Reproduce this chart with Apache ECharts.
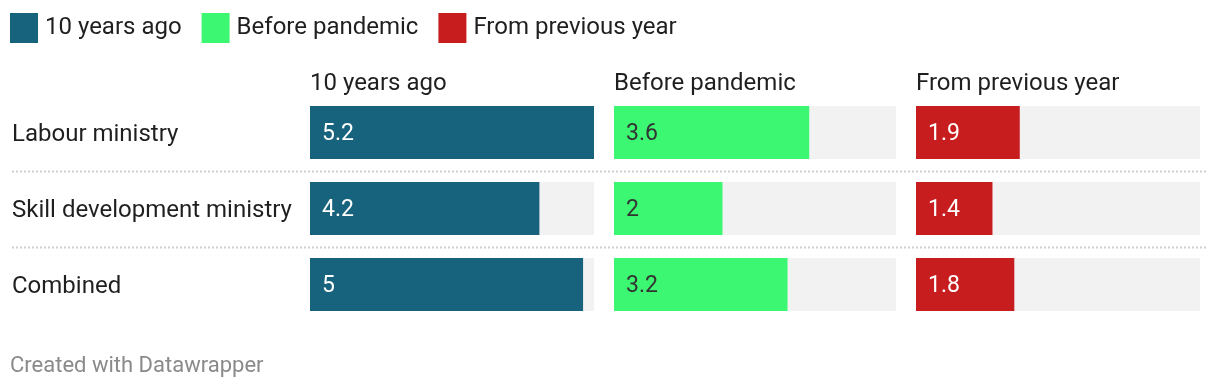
<!DOCTYPE html>
<html>
<head>
<meta charset="utf-8">
<style>html,body{margin:0;padding:0;background:#fff}#c{width:1220px;height:390px}</style>
<script src="https://cdn.jsdelivr.net/npm/echarts@6/dist/echarts.min.js"></script>
</head>
<body>
<div id="c"></div>
<script>
const categories = ['Labour ministry', 'Skill development ministry', 'Combined'];
const seriesNames = ['10 years ago', 'Before pandemic', 'From previous year'];
const tenYearsAgo = [5.2, 4.2, 5];
const beforePandemic = [3.6, 2, 3.2];
const fromPreviousYear = [1.9, 1.4, 1.8];
const scaleMax = 5.2;

const FONT = 'Roboto';
const colors = ['#17627c', '#3bf771', '#c81d1f'];
const labelColors = ['#ffffff', '#333333', '#ffffff'];
const gridLefts = [310, 614, 916];
const gridWidths = [284, 282, 284];
const values = [tenYearsAgo, beforePandemic, fromPreviousYear];

const chart = echarts.init(document.getElementById('c'), null, {renderer: 'canvas'});

const grids = [], xAxes = [], yAxes = [], series = [], titles = [];
for (let i = 0; i < 3; i++) {
  grids.push({left: gridLefts[i], width: gridWidths[i], top: 94.5, height: 228, containLabel: false});
  xAxes.push({type: 'value', gridIndex: i, min: 0, max: scaleMax, show: false});
  yAxes.push({
    type: 'category', gridIndex: i, data: categories, inverse: true,
    axisLine: {show: false}, axisTick: {show: false}, splitLine: {show: false},
    axisLabel: i === 0 ? {
      show: true, align: 'left', margin: 298, formatter: '{a|{value}}',
      rich: {a: {fontFamily: FONT, fontSize: 24, color: '#1f1f1f', padding: [5, 0, 0, 0]}}
    } : {show: false}
  });
  series.push({
    name: seriesNames[i], type: 'bar', xAxisIndex: i, yAxisIndex: i,
    data: values[i], barWidth: 53,
    itemStyle: {color: colors[i]},
    showBackground: true, backgroundStyle: {color: '#f2f2f2'},
    label: {show: true, position: 'insideLeft', distance: 12, offset: [0, 2], color: labelColors[i], fontFamily: FONT, fontSize: 23},
    silent: true, animation: false
  });
  titles.push({text: seriesNames[i], left: gridLefts[i], top: 72, padding: 0, textStyle: {fontFamily: FONT, fontSize: 24, fontWeight: 'normal', color: '#1f1f1f'}});
}
titles.push({text: 'Created with Datawrapper', left: 10, top: 355, padding: 0, textStyle: {fontFamily: FONT, fontSize: 22, fontWeight: 'normal', color: '#8a8a8a'}});

chart.setOption({
  animation: false,
  title: titles,
  legend: {
    left: 10, top: 13, padding: 0, itemWidth: 28, itemHeight: 30, itemGap: 20, icon: 'rect',
    data: seriesNames, selectedMode: false,
    textStyle: {fontFamily: FONT, fontSize: 24, color: '#1f1f1f', padding: [2, 0, 0, 2]}
  },
  grid: grids, xAxis: xAxes, yAxis: yAxes, series: series
});

// dotted separators at the band boundaries of the category axis
const centers = categories.map(c => chart.convertToPixel({yAxisIndex: 0}, c));
const seps = [];
for (let k = 0; k < centers.length - 1; k++) {
  const y = Math.round((centers[k] + centers[k + 1]) / 2) + 0.5;
  seps.push({type: 'line', shape: {x1: 12, y1: y, x2: 1208, y2: y}, style: {stroke: '#cfcfcf', lineWidth: 2, lineDash: [2, 2]}, silent: true});
}
chart.setOption({graphic: seps});
</script>
</body>
</html>
